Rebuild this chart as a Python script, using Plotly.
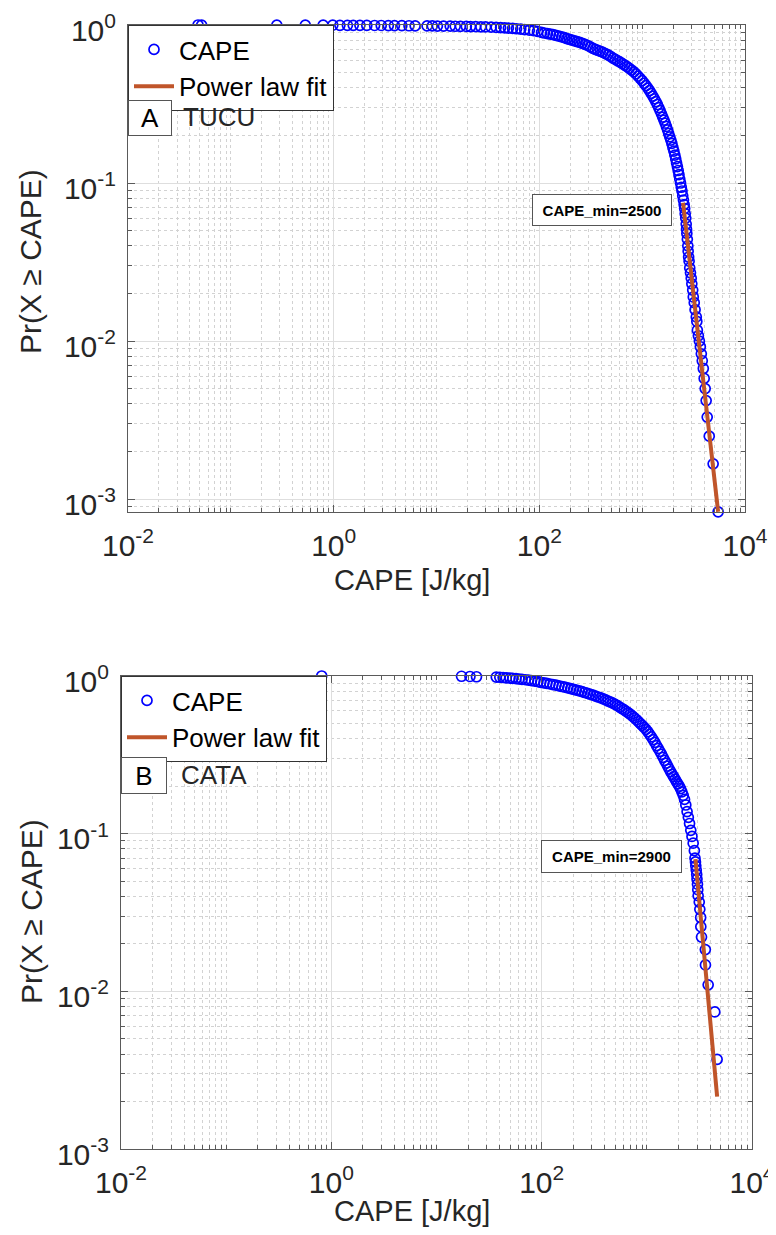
import plotly.graph_objects as go

# ---- data ----
# panel A (TUCU): empirical CCDF of CAPE
tucu_cape = [
    0.048, 0.052, 0.28, 0.53, 0.79, 0.98, 1.15, 1.36, 1.55, 1.8,
    2.1, 2.5, 2.9, 3.4, 3.9, 4.6, 5.4, 6.2, 8.1, 9.1,
    10.2, 11.7, 13.6, 15.2, 17.1, 19.5, 21.4, 24, 27, 30,
    34, 38, 42, 46, 50, 55, 60, 66, 72, 80,
    88, 96,
    105, 112, 120, 128, 136, 145, 155, 165, 175, 185,
    196, 208, 220, 233, 247, 262, 278, 295, 313, 332,
    350, 370, 392, 415, 440, 465, 492, 520, 548, 578,
    610, 642, 676, 712, 750, 790, 830, 870, 912, 955,
    1000, 1045, 1090, 1135, 1180, 1225, 1270, 1315, 1360, 1405,
    1450, 1495, 1540, 1585, 1630, 1675, 1720, 1765, 1810, 1855,
    1900, 1945, 1990, 2035, 2080, 2120, 2160, 2200, 2240, 2280,
    2320, 2360, 2400, 2440, 2480, 2520,
    2560, 2590, 2620, 2650, 2680, 2700, 2720, 2750, 2780, 2800,
    2830, 2860, 2900, 2950, 3000, 3040, 3100, 3140, 3210, 3270,
    3360, 3400, 3440, 3520, 3600, 3680, 3760, 3840, 3930, 4010,
    4100, 4190, 4290, 4490, 4900, 5480,
]
tucu_prob = [
    1.0, 0.999, 0.998, 0.998, 0.997, 0.997, 0.996, 0.996, 0.995, 0.995,
    0.994, 0.993, 0.993, 0.992, 0.991, 0.99, 0.989, 0.988, 0.987, 0.986,
    0.985, 0.984, 0.983, 0.982, 0.981, 0.979, 0.978, 0.976, 0.974, 0.972,
    0.969, 0.966, 0.963, 0.96, 0.956, 0.952, 0.947, 0.942, 0.936, 0.928,
    0.92, 0.912,
    0.897, 0.89, 0.882, 0.875, 0.868, 0.86, 0.851, 0.842, 0.832, 0.82,
    0.812, 0.803, 0.794, 0.785, 0.776, 0.766, 0.755, 0.742, 0.726, 0.712,
    0.702, 0.692, 0.682, 0.671, 0.659, 0.647, 0.633, 0.618, 0.606, 0.594,
    0.582, 0.57, 0.558, 0.545, 0.532, 0.518, 0.505, 0.49, 0.475, 0.46,
    0.445, 0.428, 0.413, 0.399, 0.384, 0.369, 0.355, 0.341, 0.327, 0.314,
    0.3, 0.287, 0.274, 0.261, 0.25, 0.239, 0.228, 0.217, 0.206, 0.196,
    0.187, 0.178, 0.168, 0.159, 0.15, 0.142, 0.134, 0.127, 0.12, 0.113,
    0.106, 0.1, 0.094, 0.089, 0.083, 0.078,
    0.073, 0.069, 0.064, 0.06, 0.055, 0.051, 0.048, 0.044, 0.04, 0.037,
    0.034, 0.032, 0.029, 0.027, 0.025, 0.023, 0.021, 0.019, 0.0175, 0.0158,
    0.0142, 0.0133, 0.0117, 0.0108, 0.01, 0.0092, 0.0083, 0.0075, 0.0067, 0.0058,
    0.005, 0.0042, 0.0033, 0.0025, 0.00167, 0.00083,
]
tucu_fit_cape = [2500, 5480]
tucu_fit_prob = [0.075, 0.00083]

# panel B (CATA)
cata_cape = [
    0.81, 17.3, 20.8, 24.0, 37, 40, 43, 46, 50, 53,
    57, 61, 65, 70, 75, 80, 86, 92, 98, 105,
    112, 120, 128, 137, 146, 156, 166, 177, 189, 201,
    214, 228, 242, 257, 273, 290, 308, 326, 345, 365,
    385, 406, 428, 451, 475, 500, 525, 552, 580, 608,
    637, 667, 698, 730, 763, 797, 832, 868, 905, 943,
    982, 1022, 1063, 1105, 1148, 1192, 1237, 1283, 1330, 1378,
    1427, 1477, 1528, 1580, 1633, 1687, 1742, 1798, 1855, 1913,
    1972, 2032, 2093, 2155, 2218, 2282, 2347, 2413, 2480, 2548,
    2617, 2687, 2758, 2830, 2870, 2900, 2920, 2950, 2980, 3000,
    3030, 3050, 3075, 3150, 3190, 3250, 3260, 3310, 3600, 3610,
    3830, 4430, 4660,
]
cata_prob = [
    1.0, 0.996, 0.993, 0.989, 0.985, 0.982, 0.978, 0.974, 0.97, 0.966,
    0.962, 0.957, 0.952, 0.947, 0.941, 0.934, 0.927, 0.92, 0.912, 0.904,
    0.897, 0.89, 0.882, 0.874, 0.866, 0.858, 0.849, 0.841, 0.832, 0.823,
    0.814, 0.805, 0.796, 0.786, 0.775, 0.766, 0.756, 0.746, 0.736, 0.726,
    0.715, 0.705, 0.694, 0.684, 0.673, 0.66, 0.648, 0.635, 0.622, 0.61,
    0.597, 0.584, 0.571, 0.557, 0.543, 0.528, 0.513, 0.499, 0.486, 0.472,
    0.459, 0.443, 0.427, 0.411, 0.395, 0.379, 0.362, 0.347, 0.333, 0.319,
    0.305, 0.292, 0.28, 0.268, 0.257, 0.247, 0.238, 0.23, 0.222, 0.214,
    0.207, 0.2, 0.193, 0.184, 0.175, 0.165, 0.152, 0.138, 0.127, 0.116,
    0.105, 0.096, 0.087, 0.078, 0.0699, 0.0662, 0.0625, 0.0588, 0.0551, 0.0515,
    0.0478, 0.0441, 0.0404, 0.0368, 0.0331, 0.0294, 0.0257, 0.0221, 0.0184, 0.0147,
    0.011, 0.0074, 0.0037,
]
cata_fit_cape = [2900, 4660]
cata_fit_prob = [0.069, 0.00215]

x_tickvals = [0.01, 1, 100, 10000]
x_ticktext = ["10<sup>-2</sup>", "10<sup>0</sup>", "10<sup>2</sup>", "10<sup>4</sup>"]
y_tickvals = [0.001, 0.01, 0.1, 1]
y_ticktext = ["10<sup>-3</sup>", "10<sup>-2</sup>", "10<sup>-1</sup>", "10<sup>0</sup>"]

# the page body adds an 8px margin, so the figure is shrunk by that on both sides
OFF = 8
W, H = 776 - 2 * OFF, 1235 - 2 * OFF
FONT = "Liberation Sans, Arial, Helvetica, sans-serif"
BLUE = "#0000FF"
ORANGE = "#C0552A"
AXIS = "#5a5a5a"

x_minor = [m * 10 ** e for e in range(-2, 4) for m in range(1, 10) if not (m == 1 and e % 2 == 0)]
y_minor = [m * 10 ** e for e in range(-4, 0) for m in range(2, 10)]


def px(x):
    # screen pixel -> paper fraction
    return (x - OFF) / W


def py(y):
    return 1 - (y - OFF) / H


fig = go.Figure()

marker_style = dict(symbol="circle-open", size=10, color=BLUE, line=dict(width=1.7, color=BLUE))

fig.add_trace(go.Scatter(
    x=tucu_cape, y=tucu_prob, mode="markers", name="CAPE", marker=marker_style,
    cliponaxis=False, xaxis="x", yaxis="y", legend="legend",
))
fig.add_trace(go.Scatter(
    x=tucu_fit_cape, y=tucu_fit_prob, mode="lines", name="Power law fit",
    line=dict(color=ORANGE, width=4), xaxis="x", yaxis="y", legend="legend",
))
fig.add_trace(go.Scatter(
    x=cata_cape, y=cata_prob, mode="markers", name="CAPE", marker=marker_style,
    cliponaxis=False, xaxis="x2", yaxis="y2", legend="legend2",
))
fig.add_trace(go.Scatter(
    x=cata_fit_cape, y=cata_fit_prob, mode="lines", name="Power law fit",
    line=dict(color=ORANGE, width=4), xaxis="x2", yaxis="y2", legend="legend2",
))

TICK_FONT = dict(family=FONT, size=30, color="#262626")


def xaxis(domain, anchor):
    return dict(
        type="log", domain=domain, anchor=anchor, range=[-2, 4], automargin=False,
        tickmode="array", tickvals=x_tickvals, ticktext=x_ticktext, tickfont=TICK_FONT,
        ticks="inside", ticklen=7, tickcolor=AXIS, ticklabelstandoff=7,
        ticklabeloverflow="allow",
        showline=True, linecolor=AXIS, linewidth=1, mirror="ticks",
        showgrid=True, gridcolor="#dedede", gridwidth=1, zeroline=False,
        minor=dict(tickmode="array", tickvals=x_minor, ticks="inside", ticklen=4,
                   tickcolor=AXIS, showgrid=True, gridcolor="#d2d2d2", griddash="dot"),
    )


def yaxis(domain, anchor, rng):
    return dict(
        type="log", domain=domain, anchor=anchor, range=rng, automargin=False,
        tickmode="array", tickvals=y_tickvals, ticktext=y_ticktext, tickfont=TICK_FONT,
        ticks="inside", ticklen=7, tickcolor=AXIS, ticklabelstandoff=5,
        ticklabelshift=5, ticklabeloverflow="allow",
        showline=True, linecolor=AXIS, linewidth=1, mirror="ticks",
        showgrid=True, gridcolor="#dedede", gridwidth=1, zeroline=False,
        minor=dict(tickmode="array", tickvals=y_minor, ticks="inside", ticklen=4,
                   tickcolor=AXIS, showgrid=True, gridcolor="#d2d2d2", griddash="dot"),
    )


legend_style = dict(
    xanchor="left", yanchor="top", bgcolor="white", bordercolor="#333333",
    borderwidth=1, font=dict(family=FONT, size=26, color="black"),
    itemwidth=40, tracegroupgap=0,
)

annotations = []


def box(text, cx, cy, w, h, size, bold=False):
    annotations.append(dict(
        x=px(cx), y=py(cy), xref="paper", yref="paper", showarrow=False,
        text=f"<b>{text}</b>" if bold else text, width=w, height=h,
        font=dict(family=FONT, size=size, color="black"),
        bordercolor="#555555", borderwidth=1, borderpad=0, bgcolor="white",
        xanchor="center", yanchor="middle",
    ))


def label(text, x, y, size, xanchor="left", angle=0):
    annotations.append(dict(
        x=px(x), y=py(y), xref="paper", yref="paper", showarrow=False, text=text,
        font=dict(family=FONT, size=size, color="#262626"), textangle=angle,
        xanchor=xanchor, yanchor="middle",
    ))


# panel A decorations
box("A", 150, 118, 42, 34, 26)
label("TUCU", 181, 117, 26)
box("CAPE_min=2500", 602, 210, 138, 30, 15, bold=True)
label("CAPE [J/kg]", 412, 580, 29, xanchor="center")
label("Pr(X \u2265 CAPE)", 31, 262, 30, xanchor="center", angle=-90)

# panel B decorations
box("B", 144, 775, 44, 35, 26)
label("CATA", 179, 775, 26)
box("CAPE_min=2900", 611, 856, 139, 31, 15, bold=True)
label("CAPE [J/kg]", 412, 1211, 29, xanchor="center")
label("Pr(X \u2265 CAPE)", 31, 912, 30, xanchor="center", angle=-90)

fig.update_layout(
    width=W, height=H, margin=dict(l=0, r=0, t=0, b=0, autoexpand=False),
    paper_bgcolor="white", plot_bgcolor="white",
    font=dict(family=FONT),
    xaxis=xaxis([px(128), px(745)], "y"),
    yaxis=yaxis([py(512), py(25)], "x", [-3.082, 0]),
    xaxis2=xaxis([px(121), px(752)], "y2"),
    yaxis2=yaxis([py(1149), py(676)], "x2", [-3, 0]),
    legend=dict(x=px(128), y=py(25), **legend_style),
    legend2=dict(x=px(121), y=py(676), **legend_style),
    annotations=annotations,
    showlegend=True,
)

fig.write_html("out.html")
